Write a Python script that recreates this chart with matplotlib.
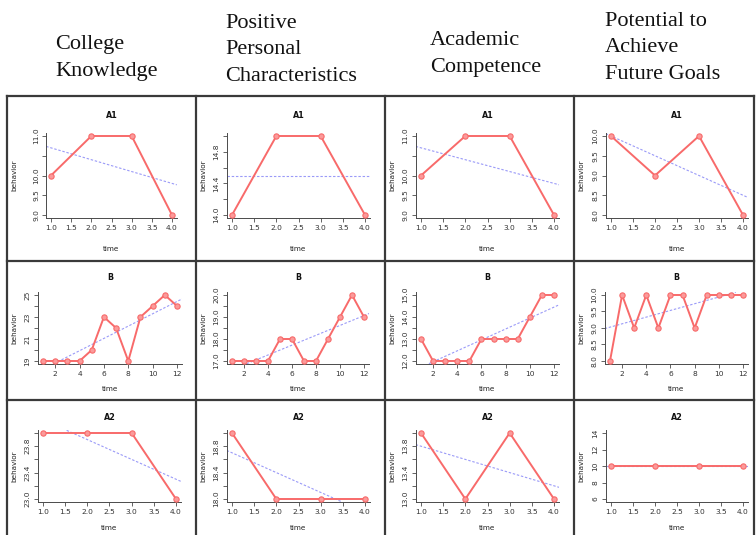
import numpy as np
import matplotlib
matplotlib.use("Agg")
import matplotlib.pyplot as plt
from matplotlib.lines import Line2D

# ---- data -------------------------------------------------------------
headers = [
    "College\nKnowledge",
    "Positive\nPersonal\nCharacteristics",
    "Academic\nCompetence",
    "Potential to\nAchieve\nFuture Goals",
]
row_titles = ["A1", "B", "A2"]

time_A = [1, 2, 3, 4]
time_B = list(range(1, 13))

college_A1 = [10, 11, 11, 9]
college_B = [19, 19, 19, 19, 20, 23, 22, 19, 23, 24, 25, 24]
college_A2 = [24, 24, 24, 23]

personal_A1 = [14, 15, 15, 14]
personal_B = [17, 17, 17, 17, 18, 18, 17, 17, 18, 19, 20, 19]
personal_A2 = [19, 18, 18, 18]

academic_A1 = [10, 11, 11, 9]
academic_B = [13, 12, 12, 12, 12, 13, 13, 13, 13, 14, 15, 15]
academic_A2 = [14, 13, 14, 13]

goals_A1 = [10, 9, 10, 8]
goals_B = [8, 10, 9, 10, 9, 10, 10, 9, 10, 10, 10, 10]
goals_A2 = [10, 10, 10, 10]

series = [
    [college_A1, college_B, college_A2],
    [personal_A1, personal_B, personal_A2],
    [academic_A1, academic_B, academic_A2],
    [goals_A1, goals_B, goals_A2],
]

# y axis limits, tick positions and which ticks carry a label
y_limits = [
    [(9, 11), (19, 25), (23, 24)],
    [(14, 15), (17, 20), (18, 19)],
    [(9, 11), (12, 15), (13, 14)],
    [(8, 10), (8, 10), (6, 14)],
]
y_ticks = [
    [[9.0, 9.5, 10.0, 10.5, 11.0], [19, 20, 21, 22, 23, 24, 25],
     [23.0, 23.2, 23.4, 23.6, 23.8, 24.0]],
    [[14.0, 14.2, 14.4, 14.6, 14.8, 15.0], [17.0, 17.5, 18.0, 18.5, 19.0, 19.5, 20.0],
     [18.0, 18.2, 18.4, 18.6, 18.8, 19.0]],
    [[9.0, 9.5, 10.0, 10.5, 11.0], [12.0, 12.5, 13.0, 13.5, 14.0, 14.5, 15.0],
     [13.0, 13.2, 13.4, 13.6, 13.8, 14.0]],
    [[8.0, 8.5, 9.0, 9.5, 10.0], [8.0, 8.5, 9.0, 9.5, 10.0],
     [6, 8, 10, 12, 14]],
]
y_labels = [
    [["9.0", "9.5", "10.0", "", "11.0"], ["19", "", "21", "", "23", "", "25"],
     ["23.0", "", "23.4", "", "23.8", ""]],
    [["14.0", "", "14.4", "", "14.8", ""], ["17.0", "", "18.0", "", "19.0", "", "20.0"],
     ["18.0", "", "18.4", "", "18.8", ""]],
    [["9.0", "9.5", "10.0", "", "11.0"], ["12.0", "", "13.0", "", "14.0", "", "15.0"],
     ["13.0", "", "13.4", "", "13.8", ""]],
    [["8.0", "8.5", "9.0", "9.5", "10.0"], ["8.0", "8.5", "9.0", "9.5", "10.0"],
     ["6", "8", "10", "12", "14"]],
]
x_ticks_A = [1.0, 1.5, 2.0, 2.5, 3.0, 3.5, 4.0]
x_labels_A = ["1.0", "1.5", "2.0", "2.5", "3.0", "3.5", "4.0"]
x_ticks_B = [2, 4, 6, 8, 10, 12]
x_labels_B = ["2", "4", "6", "8", "10", "12"]

# ---- layout (pixels, origin top-left) ---------------------------------
W, H = 756, 535
fig = plt.figure(figsize=(W / 100, H / 100), dpi=100)
fig.patch.set_facecolor("white")

col_border = [7, 196, 385, 574, 754]
row_border = [96, 261, 400]
# pixel span of the data range (first -> last value) in each panel
x_span = [
    [(51, 172), (43, 177), (43, 176)],
    [(232, 365), (232, 364), (232, 365)],
    [(421, 554), (421, 554), (421, 554)],
    [(611, 743), (610, 743), (611, 743)],
]
y_span = [(136, 215), (295, 361), (433, 499)]   # (top, bottom)
title_y = [115, 277, 417]
xlabel_y = [249, 389, 528]

RED = "#F86A6A"
RED_FILL = "#FB9A9A"
BLUE = "#9A9AF8"
AXC = "#4A4A4A"


def fx(px):
    return px / W


def fy(py):
    return 1 - py / H


def add_panel(c, r):
    y = series[c][r]
    t = time_A if len(y) == 4 else time_B
    x0, x1 = min(t), max(t)
    ylo, yhi = y_limits[c][r]
    px0, px1 = x_span[c][r]
    ptop, pbot = y_span[r]
    # R style 4 % padding around the data range
    xpad = 0.04 * (x1 - x0)
    ypad = 0.04 * (yhi - ylo)
    ppx = (px1 - px0) / (x1 - x0)
    ppy = (pbot - ptop) / (yhi - ylo)
    left = px0 - xpad * ppx
    right = px1 + xpad * ppx
    top = ptop - ypad * ppy
    bottom = pbot + ypad * ppy
    ax = fig.add_axes([fx(left), fy(bottom), (right - left) / W, (bottom - top) / H])
    ax.set_xlim(x0 - xpad, x1 + xpad)
    ax.set_ylim(ylo - ypad, yhi + ypad)

    # least-squares trend line across the whole plot region
    slope, icpt = np.polyfit(t, y, 1)
    ax.axline((0, icpt), slope=slope, color=BLUE, lw=0.8,
              linestyle=(0, (2.2, 1.6)), zorder=2)
    ax.plot(t, y, color=RED, lw=1.4, marker="o", markersize=3.8,
            markerfacecolor=RED_FILL, markeredgecolor=RED,
            markeredgewidth=0.8, zorder=3, clip_on=False)

    for s in ("top", "right"):
        ax.spines[s].set_visible(False)
    for s in ("left", "bottom"):
        ax.spines[s].set_color(AXC)
        ax.spines[s].set_linewidth(0.7)
    if len(y) == 4:
        ax.set_xticks(x_ticks_A)
        ax.set_xticklabels(x_labels_A)
    else:
        ax.set_xticks(x_ticks_B)
        ax.set_xticklabels(x_labels_B)
    ax.set_yticks(y_ticks[c][r])
    ax.set_yticklabels(y_labels[c][r], rotation=90, va="center")
    ax.tick_params(axis="both", length=2.6, width=0.6, color=AXC,
                   labelsize=5.4, labelcolor="#333333", pad=2.5)
    ax.patch.set_alpha(0)

    cx = (left + right) / 2
    fig.text(fx(cx), fy(title_y[r]), row_titles[r], ha="center", va="center",
             fontsize=5.8, fontweight="bold", color="#111111")
    fig.text(fx(cx), fy(xlabel_y[r]), "time", ha="center", va="center",
             fontsize=5.2, color="#222222")
    fig.text(fx(col_border[c] + 7), fy((ptop + pbot) / 2), "behavior",
             ha="center", va="center", rotation=90, fontsize=5.2, color="#222222")


for c in range(4):
    for r in range(3):
        add_panel(c, r)

# table rules
LINE = "#3a3a3a"
for yb in row_border:
    fig.add_artist(Line2D([fx(col_border[0]), fx(col_border[-1])], [fy(yb), fy(yb)],
                          color=LINE, lw=1.6))
for xb in col_border:
    fig.add_artist(Line2D([fx(xb), fx(xb)], [fy(row_border[0]), 0],
                          color=LINE, lw=1.6))

# column headers
header_x = [55, 225, 430, 605]
header_y = [58, 50, 54, 48]
for c in range(4):
    fig.text(fx(header_x[c]), fy(header_y[c]), headers[c], ha="left", va="center",
             fontsize=16, family="Liberation Serif", linespacing=1.55, color="#111111")

fig.savefig("out.png", dpi=100, facecolor="white")
